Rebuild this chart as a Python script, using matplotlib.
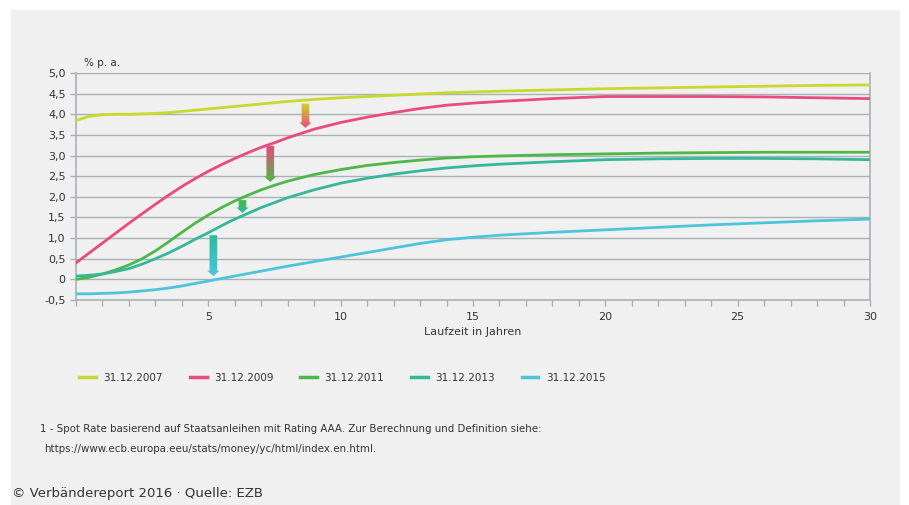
import numpy as np
import matplotlib.pyplot as plt
from matplotlib.colors import to_rgb
from matplotlib.patches import Polygon, Rectangle
from matplotlib.lines import Line2D

# Laufzeit in Jahren
maturities = [0, 0.5, 1, 1.5, 2, 2.5, 3, 3.5, 4, 4.5, 5, 5.5, 6, 6.5, 7, 7.5, 8, 9, 10,
              11, 12, 13, 14, 15, 16, 18, 20, 22, 24, 26, 28, 30]

rate_2007 = [3.85, 3.95, 3.99, 4.0, 4.0, 4.01, 4.02, 4.04, 4.07, 4.1, 4.13, 4.16, 4.19, 4.22, 4.25, 4.28,
             4.31, 4.36, 4.4, 4.43, 4.46, 4.49, 4.52, 4.54, 4.56, 4.59, 4.62, 4.64, 4.66, 4.68, 4.7, 4.71]
rate_2009 = [0.4, 0.64, 0.88, 1.12, 1.36, 1.59, 1.82, 2.04, 2.25, 2.44, 2.62, 2.78, 2.93, 3.07, 3.2, 3.31,
             3.43, 3.64, 3.8, 3.93, 4.04, 4.14, 4.22, 4.27, 4.31, 4.38, 4.43, 4.43, 4.43, 4.42, 4.4, 4.38]
rate_2011 = [0.0, 0.05, 0.13, 0.23, 0.35, 0.5, 0.69, 0.91, 1.14, 1.36, 1.56, 1.74, 1.9, 2.04, 2.17, 2.28,
             2.38, 2.54, 2.66, 2.76, 2.83, 2.89, 2.94, 2.97, 2.99, 3.02, 3.04, 3.06, 3.07, 3.08, 3.08, 3.08]
rate_2013 = [0.08, 0.1, 0.13, 0.19, 0.26, 0.37, 0.5, 0.64, 0.8, 0.97, 1.13, 1.3, 1.46, 1.6, 1.74, 1.86,
             1.98, 2.17, 2.33, 2.45, 2.55, 2.63, 2.7, 2.75, 2.79, 2.85, 2.9, 2.92, 2.93, 2.93, 2.92, 2.9]
rate_2015 = [-0.35, -0.35, -0.34, -0.33, -0.31, -0.28, -0.25, -0.21, -0.16, -0.1, -0.04, 0.02, 0.08, 0.14, 0.2, 0.26,
             0.32, 0.43, 0.54, 0.65, 0.76, 0.87, 0.96, 1.02, 1.07, 1.14, 1.2, 1.26, 1.32, 1.37, 1.42, 1.46]

labels = ["31.12.2007", "31.12.2009", "31.12.2011", "31.12.2013", "31.12.2015"]
colors = ["#c9d92c", "#ea4a7c", "#4db848", "#33b89a", "#4dc4da"]
series = [rate_2007, rate_2009, rate_2011, rate_2013, rate_2015]

# Pfeile zwischen den Kurven: (Laufzeit, von, bis, Farbe oben, Farbe unten)
arrows = [
    (8.67, 4.26, 3.67, colors[0], colors[1]),
    (7.34, 3.23, 2.36, colors[1], colors[2]),
    (6.29, 1.92, 1.61, colors[2], colors[3]),
    (5.19, 1.07, 0.08, colors[3], colors[4]),
]

bg = "#f0f0f0"
grid_col = "#a7b2b5"
txt = "#333333"

fig = plt.figure(figsize=(9.09, 5.05), dpi=100)
fig.patch.set_facecolor("white")
fig.add_artist(Rectangle((11 / 909, 0), 889 / 909, 1 - 10 / 505, transform=fig.transFigure,
                         facecolor=bg, edgecolor="none", zorder=-10))

ax = fig.add_axes([76 / 909, 1 - 300 / 505, 794 / 909, 227 / 505])
ax.set_facecolor(bg)

for vals, c, lab in zip(series, colors, labels):
    ax.plot(maturities, vals, color=c, lw=2, label=lab, zorder=3, solid_joinstyle="round")


def grad_arrow(ax, x, top, tip, c1, c2):
    sw, hw, hl = 0.145, 0.23, 0.13
    pts = [(x - sw, top), (x + sw, top), (x + sw, tip + hl), (x + hw, tip + hl),
           (x, tip), (x - hw, tip + hl), (x - sw, tip + hl)]
    poly = Polygon(pts, closed=True, facecolor="none", edgecolor="none", transform=ax.transData)
    ax.add_patch(poly)
    a = np.array(to_rgb(c1))
    b = np.array(to_rgb(c2))
    t = np.linspace(0, 1, 100)[:, None]
    img = (a * (1 - t) + b * t)[:, None, :]
    im = ax.imshow(img, extent=[x - hw, x + hw, tip, top], origin="upper",
                   aspect="auto", zorder=4, interpolation="bilinear")
    im.set_clip_path(poly)


for x, top, tip, c1, c2 in arrows:
    grad_arrow(ax, x, top, tip, c1, c2)

ax.set_xlim(0, 30)
ax.set_ylim(-0.5, 5.0)
yt = np.arange(-0.5, 5.01, 0.5)
ax.set_yticks(yt)
ax.set_yticklabels(["0" if abs(v) < 1e-9 else f"{v:.1f}".replace(".", ",") for v in yt])
ax.set_xticks([5, 10, 15, 20, 25, 30])
ax.set_xticks(range(0, 31), minor=True)
ax.grid(axis="y", color=grid_col, lw=1)
ax.set_axisbelow(True)
ax.spines["top"].set_visible(False)
for s in ["left", "right", "bottom"]:
    ax.spines[s].set_color(grid_col)
    ax.spines[s].set_linewidth(1.2)
ax.tick_params(axis="y", colors=grid_col, labelcolor=txt, labelsize=8, length=4, width=1)
ax.tick_params(axis="x", which="both", colors=grid_col, labelcolor=txt, labelsize=8, length=4, width=1)
ax.tick_params(axis="x", which="major", pad=5)
ax.set_xlabel("Laufzeit in Jahren", fontsize=8, color=txt, labelpad=3)
ax.text(0.3, 5.12, "% p. a.", fontsize=7.5, color=txt, va="bottom", ha="left")

handles = [Line2D([], [], color=c, lw=2.5) for c in colors]
fig.legend(handles, labels, loc="center left", bbox_to_anchor=(70 / 909, 1 - 378 / 505), ncol=5,
           frameon=False, fontsize=7.5, handlelength=1.6, columnspacing=2.6, handletextpad=0.7,
           labelcolor=txt)

fig.text(40 / 909, 1 - 429 / 505, "1 - Spot Rate basierend auf Staatsanleihen mit Rating AAA. Zur Berechnung und Definition siehe:",
         fontsize=7.4, color=txt, va="center")
fig.text(44 / 909, 1 - 449 / 505, "https://www.ecb.europa.eeu/stats/money/yc/html/index.en.html.",
         fontsize=7.4, color=txt, va="center")
fig.text(12 / 909, 1 - 494 / 505, "\u00a9 Verbändereport 2016 \u00b7 Quelle: EZB", fontsize=9.5, color=txt, va="center")

fig.savefig("out.png", dpi=100, facecolor=fig.get_facecolor())
